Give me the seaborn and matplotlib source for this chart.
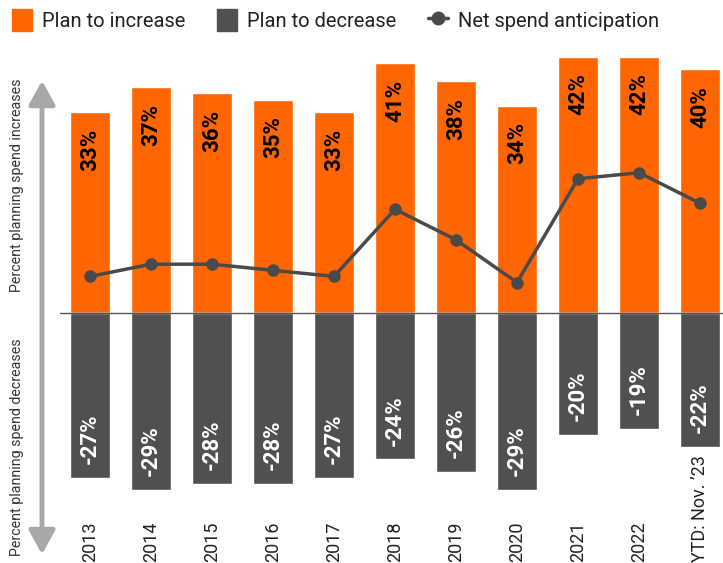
import numpy as np
import matplotlib
matplotlib.use('Agg')
import matplotlib.pyplot as plt
import seaborn as sns
from matplotlib.patches import Patch, FancyArrowPatch
from matplotlib.lines import Line2D
from matplotlib.transforms import blended_transform_factory

# data
years = ['2013', '2014', '2015', '2016', '2017', '2018', '2019', '2020',
         '2021', '2022', "YTD: Nov. \u201923"]
plan_increase = [33, 37, 36, 35, 33, 41, 38, 34, 42, 42, 40]
plan_decrease = [-27, -29, -28, -28, -27, -24, -26, -29, -20, -19, -22]
net_spend = [i + d for i, d in zip(plan_increase, plan_decrease)]

ORANGE = '#ff6600'
GRAY = '#505050'
ARROW = '#a8a8a8'

sns.set_theme(style='white')
plt.rcParams['font.family'] = ['Roboto', 'DejaVu Sans']

W, H = 723, 563
fig = plt.figure(figsize=(W / 100, H / 100), dpi=100)

# axes placed in pixel coords
px_per_pct = 6.1
zero_y = 313
y_top, y_bot = 43, -30
ax_top = zero_y - y_top * px_per_pct
ax_bot = zero_y - y_bot * px_per_pct
ax_left, ax_right = 60, 723
ax = fig.add_axes([ax_left / W, 1 - ax_bot / H,
                   (ax_right - ax_left) / W, (ax_bot - ax_top) / H])

pos = np.arange(len(years))
sns.barplot(x=pos, y=plan_increase, color=ORANGE, width=0.656,
            saturation=1, errorbar=None, ax=ax)
sns.barplot(x=pos, y=plan_decrease, color=GRAY, width=0.656,
            saturation=1, errorbar=None, ax=ax)
sns.lineplot(x=pos, y=net_spend, color='#4a4a4a', linewidth=2.5,
             marker='o', markersize=9, markeredgewidth=0, ax=ax)

x0 = (ax_left - 90) / 61
x1 = (ax_right - 90) / 61
ax.set_xlim(x0, x1)
ax.set_ylim(y_bot, y_top)
ax.axhline(0, color='#555555', linewidth=1)
ax.set_xticks([])
ax.set_yticks([])
ax.set_xlabel('')
ax.set_ylabel('')
for s in ax.spines.values():
    s.set_visible(False)

# value labels inside the bars
for i, (inc, dec) in enumerate(zip(plan_increase, plan_decrease)):
    ax.annotate(f'{inc}%', (i, inc), xytext=(0, -12), textcoords='offset points',
                rotation=90, ha='center', va='top', fontsize=16,
                fontweight='bold', color='black')
    ax.annotate(f'{dec}%', (i, dec), xytext=(0, 10), textcoords='offset points',
                rotation=90, ha='center', va='bottom', fontsize=16,
                fontweight='bold', color='white')

# year labels, bottom aligned
tr = blended_transform_factory(ax.transData, fig.transFigure)
for i, y in enumerate(years):
    ax.text(i, 1 / H, y, transform=tr, rotation=90, ha='center', va='bottom',
            fontsize=13, color='#222222')

# double arrow on the left
arr = FancyArrowPatch((42 / W, 1 - 557 / H), (42 / W, 1 - 78 / H),
                      transform=fig.transFigure, arrowstyle='<|-|>,head_length=0.9,head_width=0.5',
                      mutation_scale=16, color=ARROW, linewidth=3.5)
fig.patches.append(arr)
fig.text(17 / W, 1 - 185 / H, 'Percent planning spend increases', rotation=90,
         ha='center', va='center', fontsize=10.3, color='#333333')
fig.text(17 / W, 1 - 447 / H, 'Percent planning spend decreases', rotation=90,
         ha='center', va='center', fontsize=10.3, color='#333333')

handles = [Patch(color=ORANGE), Patch(color=GRAY),
           Line2D([], [], color='#4a4a4a', linewidth=2.5, marker='o', markersize=9)]
fig.legend(handles, ['Plan to increase', 'Plan to decrease', 'Net spend anticipation'],
           loc='upper left', bbox_to_anchor=(0, 1.005), ncol=3, frameon=False,
           fontsize=14.5, handlelength=1.0, handleheight=1.3, handletextpad=0.5,
           columnspacing=1.55, borderaxespad=0.2, labelcolor='#222222')

plt.savefig('out.png', dpi=100)
